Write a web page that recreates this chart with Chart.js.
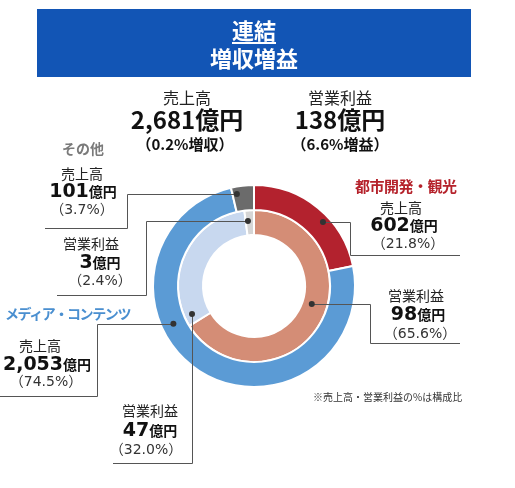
<!DOCTYPE html>
<html>
<head>
<meta charset="utf-8">
<script src="https://cdn.jsdelivr.net/npm/chart.js@4"></script>
<style>
  body { margin: 0; background: #fff; font-family: "Noto Sans CJK JP", "Noto Sans", sans-serif; color: #222; }
  #wrap { position: relative; width: 515px; height: 488px; overflow: hidden; }
  #chart { position: absolute; left: 0; top: 0; }
  .banner { position: absolute; left: 37px; top: 9px; width: 434px; height: 68px; background: #1255b5; }
  .t { position: absolute; white-space: nowrap; transform: translate(-50%, -50%); line-height: 1; }
  .l { position: absolute; white-space: nowrap; transform: translateY(-50%); line-height: 1; }
  .num { font-family: "DejaVu Sans", "Noto Sans CJK JP", sans-serif; }
</style>
</head>
<body>
<div id="wrap">
  <div class="banner"></div>
  <canvas id="chart" width="515" height="488"></canvas>
</div>
<script>
// data
const segments = ["都市開発・観光", "メディア・コンテンツ", "その他"];
const sales = [602, 2053, 101];
const profit = [98, 47, 3];
const salesPct = ["21.8%", "74.5%", "3.7%"];
const profitPct = ["65.6%", "32.0%", "2.4%"];
const totalSales = "2,681";
const totalProfit = "138";
const salesChange = "0.2%増収";
const profitChange = "6.6%増益";

const outerColors = ["#b3222e", "#5b9bd5", "#6b6b6b"];
const innerColors = ["#d48d76", "#c8d8ef", "#d5d5d5"];
const segColors = ["#b5222b", "#4a8fd0", "#7a7a7a"];

const wrap = document.getElementById("wrap");
function put(html, x, y, style, left) {
    const d = document.createElement("div");
    d.className = left ? "l" : "t";
    d.innerHTML = html;
    d.style.left = x + "px";
    d.style.top = y + "px";
    d.style.cssText += style;
    wrap.appendChild(d);
}
function fmt(n) {
    return n.toLocaleString("en-US");
}

// header
put("連結", 254, 29, "color:#fff;font-weight:700;font-size:22px;text-decoration:underline;text-decoration-thickness:2px;text-underline-offset:3px;");
put("増収増益", 254, 57, "color:#fff;font-weight:700;font-size:22px;");

put("売上高", 187, 97, "font-size:16px;");
put(totalSales + "億円", 187, 119, "font-size:24px;font-weight:700;color:#111;");
put("（" + salesChange + "）", 185, 143, "font-size:15px;font-weight:700;color:#111;");
put("営業利益", 340, 97, "font-size:16px;");
put(totalProfit + "億円", 340, 119, "font-size:24px;font-weight:700;color:#111;");
put("（" + profitChange + "）", 340, 143, "font-size:15px;font-weight:700;color:#111;");

// segment labels
put(segments[0], 355, 185, "font-size:15px;font-weight:700;letter-spacing:-0.5px;color:" + segColors[0] + ";", true);
put(segments[1], 5, 313, "font-size:14px;font-weight:700;letter-spacing:-1.4px;color:" + segColors[1] + ";", true);
put(segments[2], 62, 148, "font-size:14px;font-weight:700;color:" + segColors[2] + ";", true);

function block(title, value, pct, x, ys) {
    put(title, x[0], ys[0], "font-size:14px;");
    put("<span class='num'>" + fmt(value) + "</span><span style='font-size:14px'>億円</span>", x[1], ys[1], "font-size:19px;font-weight:700;color:#111;");
    put("（<span class='num'>" + pct + "</span>）", x[2], ys[2], "font-size:14px;color:#333;");
}
block("売上高", sales[0], salesPct[0], [401, 404, 408], [207, 223, 242]);
block("営業利益", profit[0], profitPct[0], [416, 418, 420], [295, 312, 332]);
block("売上高", sales[1], salesPct[1], [40, 47, 46], [345, 362, 380]);
block("営業利益", profit[1], profitPct[1], [150, 150, 146], [410, 428, 448]);
block("売上高", sales[2], salesPct[2], [82, 83, 82], [173, 189, 208]);
block("営業利益", profit[2], profitPct[2], [91, 100, 100], [243, 260, 279]);

put("※売上高・営業利益の%は構成比", 313, 397, "font-size:10px;color:#333;", true);

// leader lines: dot on arc (t along arc, rf across ring), then elbow to label
const leaders = [
    { ds: 0, i: 0, t: 0.6, rf: 0.72, elbowX: 350, lineY: 255, endX: 460 },
    { ds: 1, i: 0, t: 0.45, rf: 0.38, elbowX: 370, lineY: 343, endX: 460 },
    { ds: 0, i: 1, t: 0.62, rf: 0.52, elbowX: 97, lineY: 396, endX: 0 },
    { ds: 1, i: 1, t: 0.064, rf: 0.68, elbowX: null, lineY: 463, endX: 113 },
    { ds: 0, i: 2, t: 0.2, rf: 0.7, elbowX: 127, lineY: 228, endX: 45 },
    { ds: 1, i: 2, t: 0.27, rf: 0.57, elbowX: 146, lineY: 295, endX: 57 },
];

const leaderPlugin = {
    id: "leaders",
    afterDatasetsDraw(chart) {
        const ctx = chart.ctx;
        ctx.save();
        leaders.forEach((l) => {
            const arc = chart.getDatasetMeta(l.ds).data[l.i];
            const p = arc.getProps(["x", "y", "startAngle", "endAngle", "innerRadius", "outerRadius"]);
            const a = p.startAngle + l.t * (p.endAngle - p.startAngle);
            const r = p.innerRadius + l.rf * (p.outerRadius - p.innerRadius);
            const dx = p.x + r * Math.cos(a);
            const dy = p.y + r * Math.sin(a);
            const ex = l.elbowX === null ? Math.round(dx) + 0.5 : l.elbowX + 0.5;
            const ly = l.lineY + 0.5;
            ctx.strokeStyle = "#555";
            ctx.lineWidth = 1;
            ctx.beginPath();
            ctx.moveTo(dx, Math.round(dy) + 0.5);
            ctx.lineTo(ex, Math.round(dy) + 0.5);
            ctx.lineTo(ex, ly);
            ctx.lineTo(l.endX, ly);
            ctx.stroke();
            ctx.fillStyle = "#333";
            ctx.beginPath();
            ctx.arc(dx, dy, 3, 0, Math.PI * 2);
            ctx.fill();
        });
        ctx.restore();
    },
};

new Chart(document.getElementById("chart").getContext("2d"), {
    type: "doughnut",
    data: {
        labels: segments,
        datasets: [
            { label: "売上高", data: sales, backgroundColor: outerColors, borderColor: "#fff", borderWidth: 2 },
            { label: "営業利益", data: profit, backgroundColor: innerColors, borderColor: "#fff", borderWidth: 2 },
        ],
    },
    options: {
        responsive: false,
        animation: false,
        radius: 101,
        cutout: "50.5%",
        layout: { padding: { left: 0, right: 7, top: 84, bottom: 0 } },
        plugins: {
            legend: { display: false },
            tooltip: { enabled: false },
        },
    },
    plugins: [leaderPlugin],
});
</script>
</body>
</html>
